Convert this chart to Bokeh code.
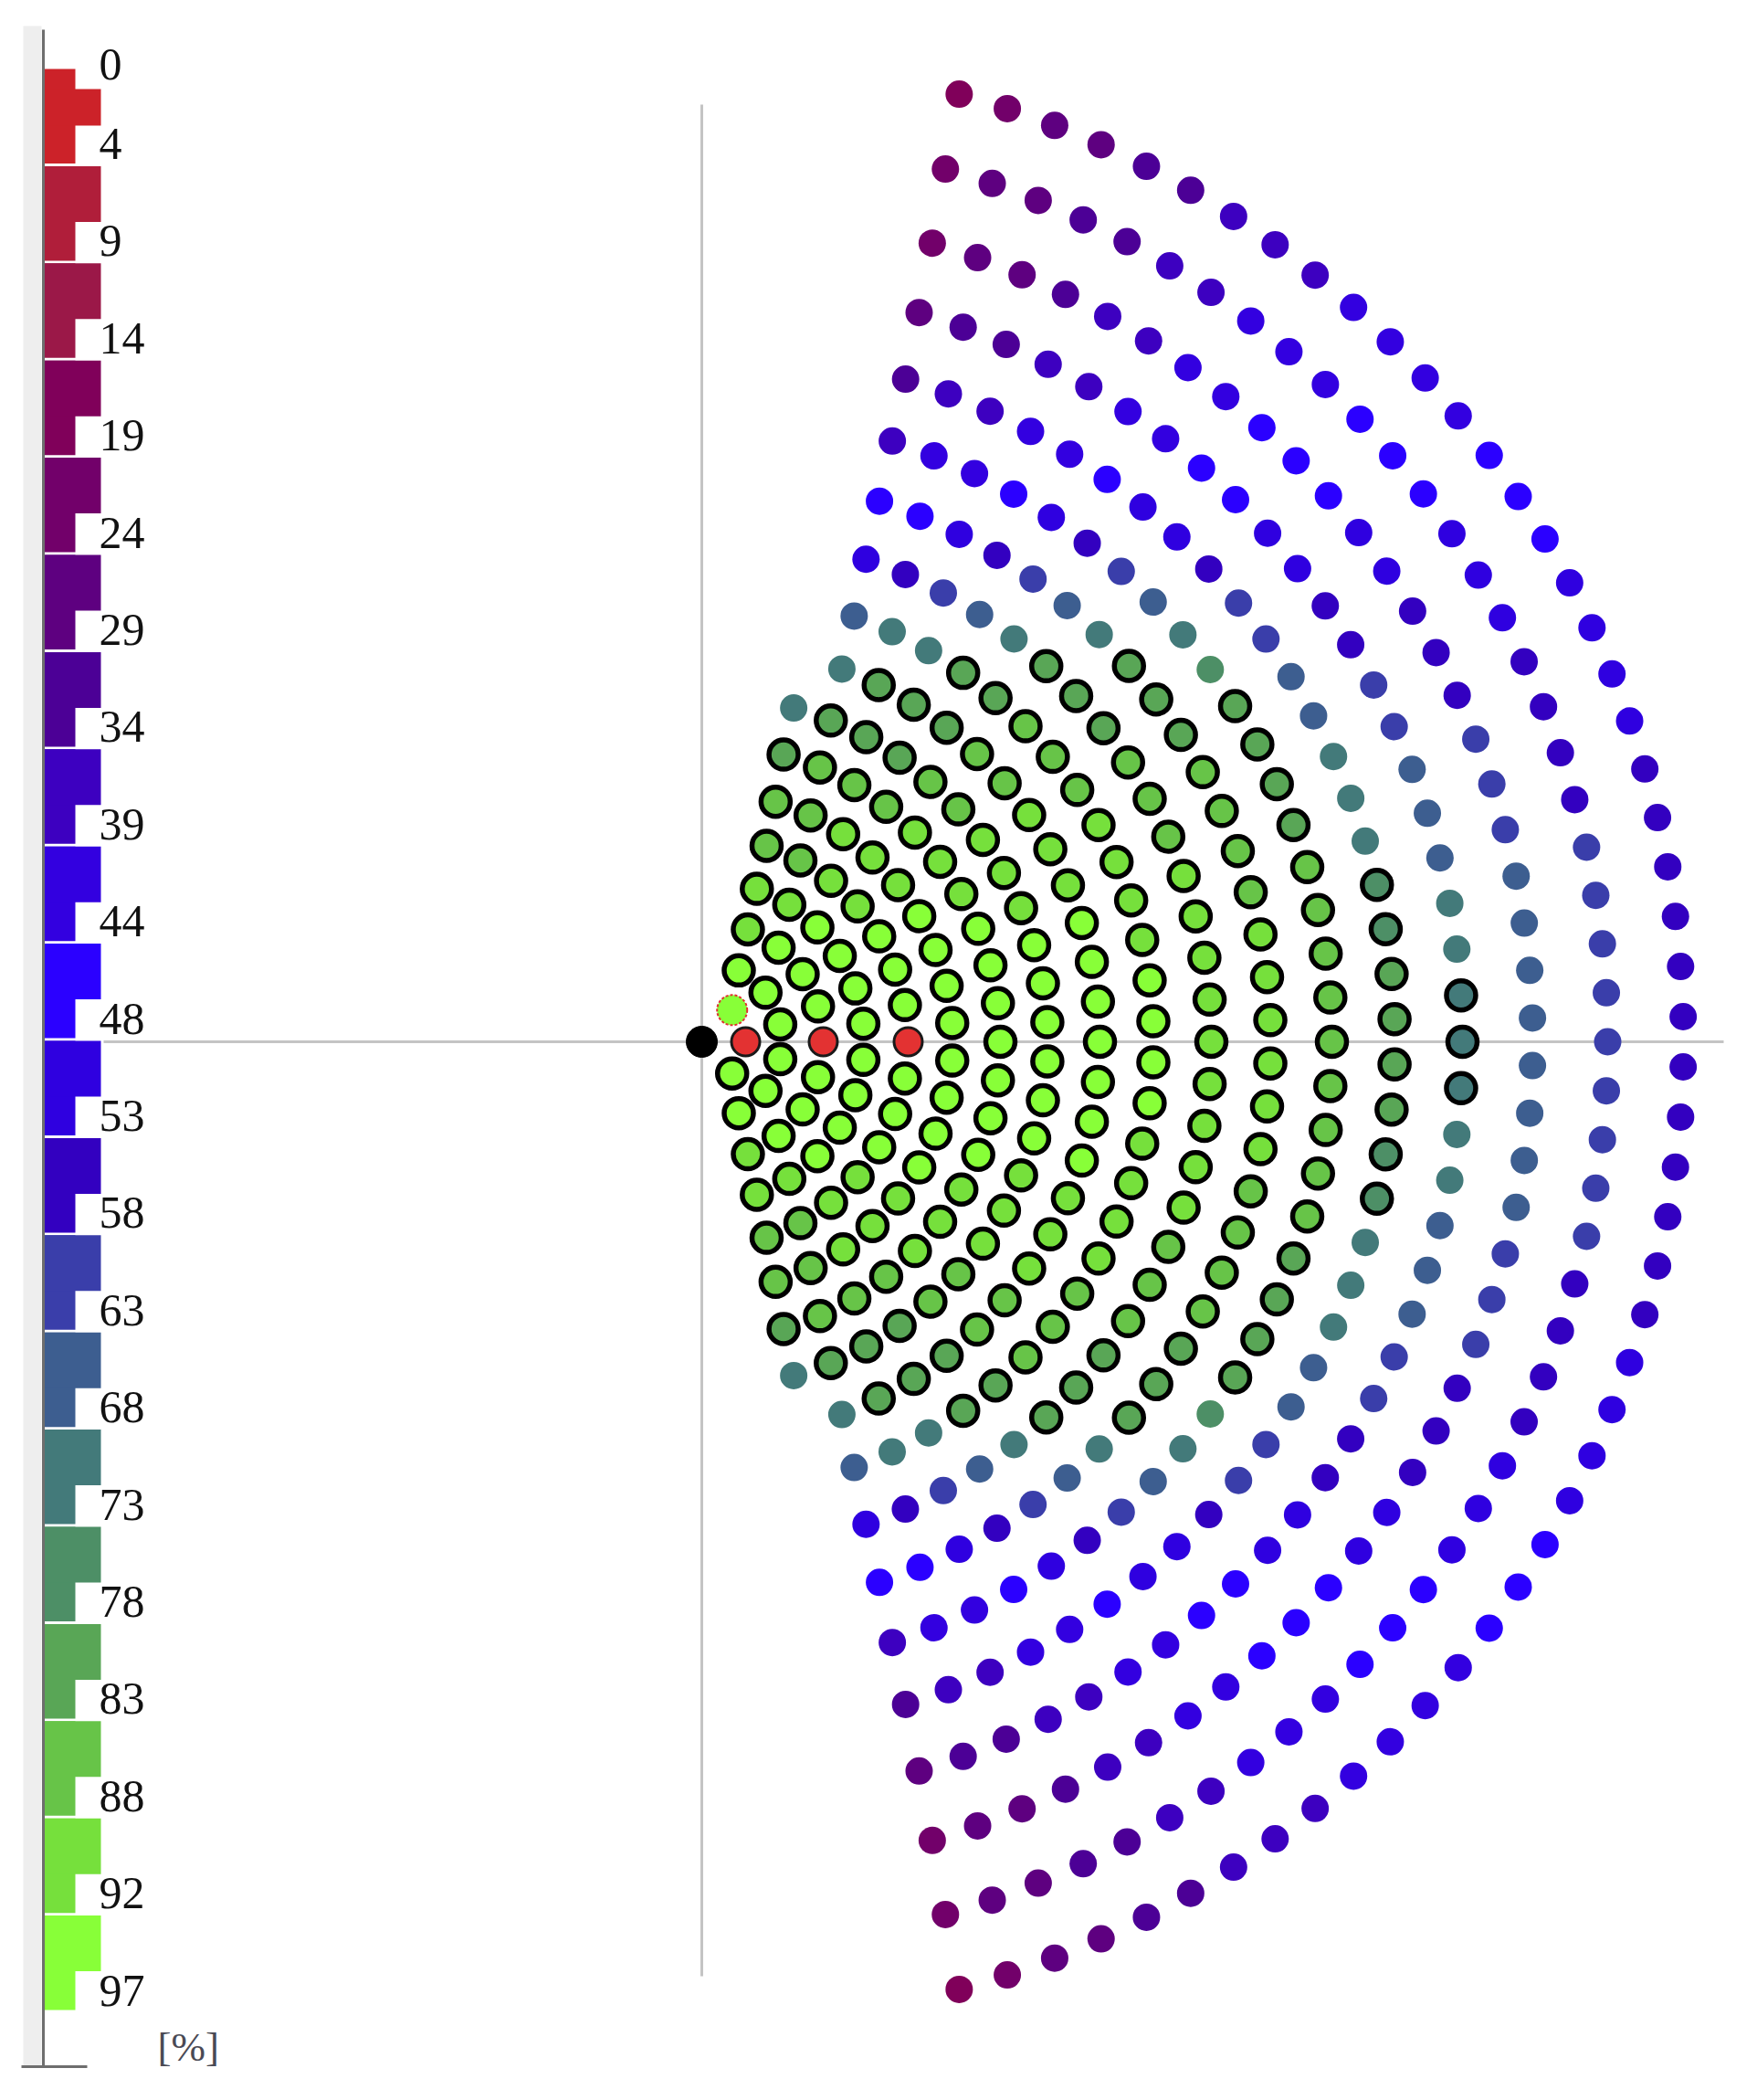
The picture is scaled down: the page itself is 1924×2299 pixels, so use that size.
import numpy as np
from bokeh.plotting import figure
from bokeh.models import Range1d, ColumnDataSource
from bokeh.embed import file_html
from bokeh.resources import INLINE
from bokeh.core.properties import value

# ---------------- colour scale (20 classes, percent) ----------------
scale_ticks = ["0", "4", "9", "14", "19", "24", "29", "34", "39", "44", "48",
               "53", "58", "63", "68", "73", "78", "83", "88", "92", "97"]
class_colors = ["#CC2229", "#B01E3A", "#9B1848", "#80005A", "#72006A",
                "#5E0080", "#4C0096", "#3D00C0", "#3300E0", "#2B00FF",
                "#2F00E0", "#3300C0", "#3A3EAA", "#3D5E90", "#437A7A",
                "#4D8F66", "#59A656", "#67C448", "#76E03C", "#88FF38"]
unit_label = "[%]"

# ---------------- rings of the fan ----------------
ring_radius = [48, 88, 133, 178, 226, 275, 327, 379, 436, 495, 558, 623, 690,
               759, 833, 910, 992, 1075]
ring_count = [3, 6, 9, 12, 15, 18, 21, 24, 25, 28, 31, 34, 37, 40, 43, 46, 49, 52]
ring_half_span_deg = [46.2, 62.6, 67.7, 70.2, 71.7, 72.9, 74.1, 74.6, 69.4, 70.3,
                      71.2, 71.8, 72.4, 72.9, 73.4, 73.9, 74.4, 74.8]
# class index of each dot, upper half, from the axis outwards
ring_class_upper = [
    [0, 19],
    [19, 19, 19],
    [0, 19, 19, 19, 18],
    [19, 19, 19, 19, 18, 18],
    [0, 19, 19, 19, 18, 18, 17, 17],
    [19, 19, 19, 19, 18, 18, 18, 17, 17],
    [19, 19, 19, 19, 18, 18, 18, 17, 17, 17, 16],
    [19, 19, 19, 18, 18, 18, 17, 17, 16, 16, 16, 14],
    [19, 19, 19, 19, 18, 18, 18, 17, 17, 16, 16, 16, 14],
    [19, 19, 18, 18, 18, 18, 17, 17, 17, 16, 16, 14, 14, 13],
    [18, 18, 18, 18, 18, 17, 17, 17, 16, 16, 16, 14, 13, 12, 11, 10],
    [18, 18, 18, 17, 17, 17, 17, 16, 16, 16, 14, 13, 12, 11, 10, 9, 9],
    [17, 17, 17, 17, 17, 16, 16, 16, 16, 15, 14, 13, 12, 11, 10, 9, 8, 8, 7],
    [16, 16, 15, 15, 14, 14, 14, 13, 13, 12, 12, 11, 10, 10, 9, 8, 8, 7, 7, 6],
    [14, 14, 14, 14, 13, 13, 13, 12, 12, 11, 11, 10, 10, 9, 9, 8, 8, 7, 7, 6, 6, 5],
    [13, 13, 13, 13, 12, 12, 12, 11, 11, 11, 10, 10, 9, 9, 9, 8, 8, 7, 7, 6, 5, 5, 4],
    [12, 12, 12, 12, 12, 11, 11, 11, 11, 10, 10, 10, 9, 9, 9, 8, 8, 8, 7, 7, 6, 6, 5, 5, 4],
    [11, 11, 11, 11, 11, 11, 10, 10, 10, 10, 9, 9, 9, 8, 8, 8, 8, 7, 7, 7, 6, 6, 5, 5, 4, 3],
]
# number of outlined (selected) dots in the upper half, counted from the axis
ring_selected_upper = [2, 3, 5, 6, 8, 9, 11, 11, 12, 11, 11, 10, 9, 4, 2, 0, 0, 0]

# ---------------- build dot table ----------------
xs, ys, cls, sel, special = [], [], [], [], []
for k in range(len(ring_radius)):
    n = ring_count[k]
    r = ring_radius[k]
    half = ring_half_span_deg[k]
    up = ring_class_upper[k]
    ns = ring_selected_upper[k]
    up_sel = [i < ns for i in range(len(up))]
    if n % 2:
        vals = up[::-1] + up[1:]
        sels = up_sel[::-1] + up_sel[1:]
    else:
        vals = up[::-1] + up
        sels = up_sel[::-1] + up_sel
    step = 2 * half / (n - 1)
    for i in range(n):
        th = np.radians(half - i * step)
        xs.append(r * np.cos(th))
        ys.append(r * np.sin(th))
        cls.append(vals[i])
        sel.append(sels[i])
        special.append(k == 0 and i == 0)

xs = np.array(xs); ys = np.array(ys); cls = np.array(cls)
sel = np.array(sel); special = np.array(special)
cols = np.array([class_colors[c] for c in cls])

p = figure(width=1900, height=2280, x_range=Range1d(-768, 1132),
           y_range=Range1d(-1140, 1140), output_backend="svg",
           toolbar_location=None, min_border=0)
p.axis.visible = False
p.grid.visible = False
p.outline_line_color = None
p.background_fill_color = "white"

# fan axes
p.line([-655, 1119], [0, 0], line_color="#C4C4C4", line_width=3)
p.line([0, 0], [-1023, 1026], line_color="#C4C4C4", line_width=3)

m = (~sel) & (cls != 0) & (~special)
p.scatter(xs[m], ys[m], size=30, marker="circle", fill_color=cols[m], line_color=None)
m = sel & (cls != 0) & (~special)
p.scatter(xs[m], ys[m], size=32, marker="circle", fill_color=cols[m],
          line_color="black", line_width=5.5)
m = (cls == 0)
p.scatter(xs[m], ys[m], size=31, marker="circle", fill_color="#E33232",
          line_color="#1a1a1a", line_width=3)
m = special
p.scatter(xs[m], ys[m], size=33, marker="circle", fill_color=cols[m],
          line_color="#E03030", line_width=2, line_dash="3 2")
p.scatter([0], [0], size=34, marker="circle", fill_color="black", line_color="black")

# ---------------- colour bar ----------------
CB_X0, CB_NARROW, CB_WIDE = -720, 34, 62
CB_Y0, CB_STEP, CB_H = 1065, 106.4, 103.5
p.quad(left=[-743], right=[-723], top=[1112], bottom=[-1122], fill_color="#EEEEEE", line_color=None)
ncls = len(class_colors)
tops = [CB_Y0 - i * CB_STEP for i in range(ncls)]
p.quad(left=[CB_X0] * ncls, right=[CB_X0 + CB_NARROW] * ncls, top=tops,
       bottom=[t - CB_H for t in tops], fill_color=class_colors, line_color=None)
wtop = [t if i > 0 else t - 22 for i, t in enumerate(tops)]
wbot = [t - 61 if i > 0 else t - 62 for i, t in enumerate(tops)]
p.quad(left=[CB_X0] * ncls, right=[CB_X0 + CB_WIDE] * ncls, top=wtop, bottom=wbot,
       fill_color=class_colors, line_color=None)
p.line([-721, -721], [-1122, 1108], line_color="#6E6E6E", line_width=3)
p.line([-745, -673], [-1122, -1122], line_color="#6E6E6E", line_width=3)

lab_y = [CB_Y0 + 5] + [t - CB_H + 21.5 for t in tops]
src = ColumnDataSource(dict(x=[-660] * len(scale_ticks), y=lab_y, t=scale_ticks))
p.text(x="x", y="y", text="t", source=src, text_font=value("Liberation Serif"),
       text_font_size="50px", text_baseline="middle", text_align="left", text_color="#111111")
p.text(x=[-596], y=[-1100], text=[unit_label], text_font=value("Liberation Serif"),
       text_font_size="45px", text_baseline="middle", text_align="left", text_color="#4A4A55")

open("out.html", "w").write(file_html(p, INLINE))
